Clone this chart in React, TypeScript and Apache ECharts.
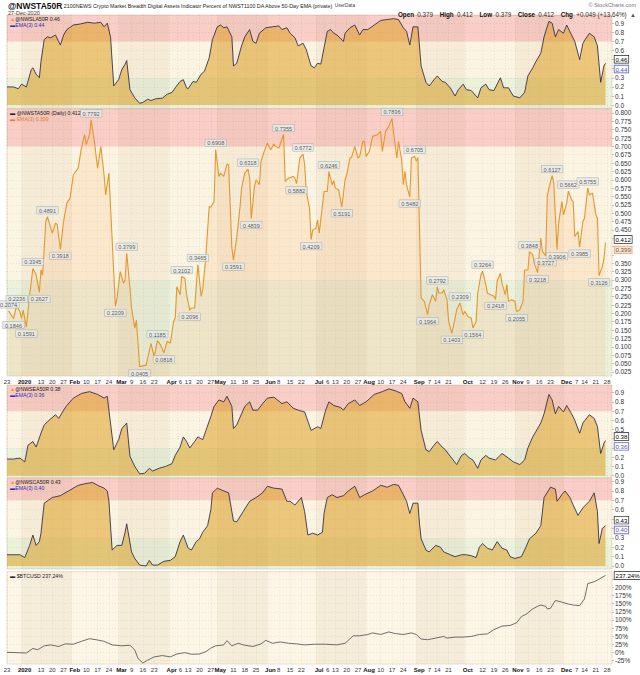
import React, { useEffect, useRef } from "react";
import * as echarts from "echarts";

const FONT = "'Liberation Sans', Arial, sans-serif";

// ---------- x categories: calendar days 2019-12-23 .. 2020-12-31 ----------
const FIRST_DAY = Date.UTC(2019, 11, 23);
const DAY_COUNT = 375;
const categories: string[] = Array.from({ length: DAY_COUNT }, (_, i) =>
  new Date(FIRST_DAY + i * 86400000).toISOString().slice(0, 10)
);

const xTickLabels: [string, string][] = [
  ["2019-12-23", "23"], ["2020-01-01", "2020"], ["2020-01-13", "13"], ["2020-01-20", "20"], ["2020-01-27", "27"],
  ["2020-02-01", "Feb"], ["2020-02-10", "10"], ["2020-02-17", "17"], ["2020-02-24", "24"],
  ["2020-03-01", "Mar"], ["2020-03-09", "9"], ["2020-03-16", "16"], ["2020-03-23", "23"],
  ["2020-04-01", "Apr"], ["2020-04-06", "6"], ["2020-04-13", "13"], ["2020-04-20", "20"], ["2020-04-27", "27"],
  ["2020-05-01", "May"], ["2020-05-11", "11"], ["2020-05-18", "18"], ["2020-05-25", "25"],
  ["2020-06-01", "Jun"], ["2020-06-08", "8"], ["2020-06-15", "15"], ["2020-06-22", "22"],
  ["2020-07-01", "Jul"], ["2020-07-06", "6"], ["2020-07-13", "13"], ["2020-07-20", "20"], ["2020-07-27", "27"],
  ["2020-08-01", "Aug"], ["2020-08-10", "10"], ["2020-08-17", "17"], ["2020-08-24", "24"],
  ["2020-09-01", "Sep"], ["2020-09-07", "7"], ["2020-09-14", "14"], ["2020-09-21", "21"],
  ["2020-10-01", "Oct"], ["2020-10-12", "12"], ["2020-10-19", "19"], ["2020-10-26", "26"],
  ["2020-11-01", "Nov"], ["2020-11-09", "9"], ["2020-11-16", "16"], ["2020-11-23", "23"],
  ["2020-12-01", "Dec"], ["2020-12-07", "7"], ["2020-12-14", "14"], ["2020-12-21", "21"], ["2020-12-28", "28"],
];
const boldTickTexts = ["2020", "Feb", "Mar", "Apr", "May", "Jun", "Jul", "Aug", "Sep", "Oct", "Nov", "Dec"];
// day labels that sit right after a month label
const crowdedTickDates = ["2020-04-06", "2020-07-06", "2020-09-07", "2020-12-07"];

const shadedMonths: [string, string][] = [
  ["2020-01-01", "2020-02-01"], ["2020-03-01", "2020-04-01"], ["2020-05-01", "2020-06-01"],
  ["2020-07-01", "2020-08-01"], ["2020-09-01", "2020-10-01"], ["2020-11-01", "2020-12-01"],
];

// ---------- y tick labels ----------
const ratioTicks = [0, 0.1, 0.2, 0.3, 0.4, 0.5, 0.6, 0.7, 0.8, 0.9];
const mainTicks = [
  0.025, 0.05, 0.075, 0.1, 0.125, 0.15, 0.175, 0.2, 0.225, 0.25, 0.275, 0.3, 0.325, 0.35, 0.375, 0.4,
  0.425, 0.45, 0.475, 0.5, 0.525, 0.55, 0.575, 0.6, 0.625, 0.65, 0.675, 0.7, 0.725, 0.75, 0.775, 0.8,
];
const btcTicks = [-25, 0, 25, 50, 75, 100, 125, 150, 175, 200, 225];

// ---------- data: [days since 2019-12-23, value] ----------
const nwslaData: [number, number][] = [
  [0, 0.2], [4, 0.2], [7, 0.18], [9, 0.23], [12, 0.2], [15, 0.39], [16, 0.41], [18, 0.34], [20, 0.3], [21, 0.48],
  [23, 0.72], [25, 0.75], [27, 0.74], [30, 0.77], [33, 0.66], [35, 0.77], [37, 0.83], [41, 0.88], [45, 0.89], [50, 0.91],
  [54, 0.9], [58, 0.91], [60, 0.86], [62, 0.9], [64, 0.75], [66, 0.21], [69, 0.28], [71, 0.39], [73, 0.45], [74, 0.49],
  [76, 0.17], [79, 0.08], [82, 0.02], [84, 0.03], [87, 0.065], [89, 0.05], [92, 0.07], [96, 0.076], [99, 0.12], [102, 0.14],
  [104, 0.19], [107, 0.26], [109, 0.28], [111, 0.19], [112, 0.18], [115, 0.26], [117, 0.25], [120, 0.34], [122, 0.37], [125, 0.52],
  [127, 0.72], [130, 0.86], [132, 0.88], [134, 0.85], [136, 0.86], [139, 0.75], [140, 0.43], [142, 0.46], [145, 0.65], [147, 0.75],
  [150, 0.83], [152, 0.7], [154, 0.68], [156, 0.79], [160, 0.85], [164, 0.86], [168, 0.87], [170, 0.83], [173, 0.85], [175, 0.79],
  [178, 0.74], [180, 0.65], [183, 0.68], [185, 0.61], [188, 0.43], [190, 0.41], [192, 0.46], [194, 0.45], [197, 0.72], [198, 0.81],
  [200, 0.83], [202, 0.79], [204, 0.77], [208, 0.7], [209, 0.79], [212, 0.85], [215, 0.88], [218, 0.77], [220, 0.83], [223, 0.83],
  [227, 0.88], [231, 0.93], [235, 0.94], [239, 0.95], [242, 0.94], [245, 0.85], [247, 0.81], [249, 0.66], [251, 0.86], [254, 0.86],
  [256, 0.43], [259, 0.25], [261, 0.21], [264, 0.28], [266, 0.32], [269, 0.26], [271, 0.25], [274, 0.19], [277, 0.1], [279, 0.17],
  [282, 0.23], [284, 0.17], [287, 0.16], [291, 0.08], [293, 0.19], [296, 0.23], [298, 0.17], [301, 0.16], [305, 0.3], [307, 0.19],
  [310, 0.19], [313, 0.1], [317, 0.08], [320, 0.14], [322, 0.32], [325, 0.41], [327, 0.48], [330, 0.57], [332, 0.75], [335, 0.92],
  [337, 0.9], [339, 0.75], [341, 0.83], [344, 0.79], [346, 0.88], [349, 0.77], [351, 0.7], [354, 0.5], [356, 0.68], [360, 0.79],
  [363, 0.75], [365, 0.65], [367, 0.25], [369, 0.43], [370, 0.46],
];

const nwstaDaily: [number, number][] = [
  [1, 0.2074], [4, 0.1846], [6, 0.2236], [8, 0.205], [9, 0.185], [10, 0.21], [12, 0.1591], [14, 0.255], [16, 0.3345], [18, 0.316],
  [20, 0.2627], [21, 0.33], [22, 0.315], [24, 0.476], [25, 0.4891], [28, 0.44], [30, 0.47], [31, 0.467], [33, 0.3918], [35, 0.476],
  [37, 0.53], [39, 0.545], [41, 0.615], [44, 0.635], [46, 0.695], [48, 0.735], [49, 0.705], [51, 0.735], [52, 0.7792], [54, 0.715],
  [56, 0.635], [58, 0.7], [60, 0.615], [61, 0.555], [63, 0.62], [67, 0.2209], [68, 0.245], [70, 0.325], [72, 0.29], [73, 0.3],
  [74, 0.3799], [76, 0.276], [77, 0.216], [78, 0.186], [79, 0.156], [80, 0.18], [82, 0.0405], [86, 0.045], [89, 0.11], [91, 0.07],
  [93, 0.1185], [95, 0.105], [97, 0.0818], [99, 0.116], [101, 0.111], [103, 0.176], [104, 0.186], [105, 0.28], [107, 0.256], [108, 0.3102],
  [110, 0.305], [111, 0.256], [113, 0.2096], [114, 0.216], [116, 0.216], [118, 0.3465], [120, 0.251], [121, 0.271], [123, 0.376], [125, 0.52],
  [126, 0.518], [128, 0.535], [129, 0.6908], [131, 0.61], [132, 0.62], [134, 0.61], [136, 0.647], [137, 0.645], [139, 0.396], [140, 0.3591],
  [142, 0.426], [144, 0.516], [145, 0.575], [147, 0.62], [149, 0.6318], [150, 0.605], [151, 0.4839], [153, 0.58], [154, 0.6], [156, 0.585],
  [157, 0.655], [159, 0.685], [161, 0.71], [163, 0.69], [165, 0.707], [166, 0.7], [168, 0.695], [171, 0.7355], [172, 0.595], [174, 0.605],
  [177, 0.61], [178, 0.605], [179, 0.5882], [181, 0.665], [183, 0.6772], [184, 0.645], [185, 0.565], [187, 0.515], [188, 0.4209], [189, 0.45],
  [191, 0.455], [192, 0.48], [193, 0.44], [196, 0.565], [198, 0.565], [199, 0.6246], [201, 0.585], [202, 0.597], [203, 0.575], [205, 0.57],
  [207, 0.5191], [209, 0.6], [210, 0.615], [212, 0.665], [213, 0.667], [215, 0.7], [217, 0.665], [218, 0.67], [220, 0.715], [221, 0.715],
  [222, 0.67], [224, 0.685], [226, 0.73], [229, 0.735], [231, 0.745], [232, 0.685], [234, 0.745], [236, 0.76], [238, 0.7836], [239, 0.74],
  [241, 0.665], [242, 0.715], [244, 0.66], [245, 0.585], [246, 0.625], [247, 0.585], [249, 0.5482], [250, 0.665], [252, 0.6705], [253, 0.655],
  [254, 0.667], [255, 0.456], [256, 0.246], [258, 0.236], [260, 0.1964], [261, 0.226], [263, 0.256], [265, 0.236], [266, 0.2792], [267, 0.261],
  [269, 0.261], [270, 0.271], [272, 0.241], [273, 0.176], [275, 0.1403], [277, 0.186], [278, 0.211], [280, 0.2309], [282, 0.196], [283, 0.206],
  [285, 0.19], [287, 0.186], [288, 0.1564], [290, 0.176], [291, 0.261], [293, 0.316], [294, 0.3264], [296, 0.286], [297, 0.26], [299, 0.256],
  [301, 0.251], [302, 0.2418], [303, 0.296], [305, 0.32], [306, 0.29], [308, 0.256], [309, 0.286], [310, 0.236], [312, 0.241], [314, 0.236],
  [315, 0.2055], [317, 0.211], [319, 0.236], [320, 0.33], [322, 0.33], [323, 0.3848], [325, 0.375], [326, 0.35], [328, 0.3218], [329, 0.376],
  [330, 0.425], [331, 0.385], [333, 0.3727], [334, 0.55], [335, 0.575], [337, 0.6127], [338, 0.59], [340, 0.3906], [341, 0.47], [343, 0.535],
  [344, 0.495], [346, 0.53], [347, 0.5662], [349, 0.54], [350, 0.535], [351, 0.43], [353, 0.445], [354, 0.3985], [356, 0.475], [357, 0.485],
  [359, 0.5755], [360, 0.555], [362, 0.56], [364, 0.495], [365, 0.485], [366, 0.3126], [368, 0.34], [369, 0.363], [370, 0.412],
];
const peakLabelDays = [1, 6, 16, 25, 52, 74, 93, 108, 118, 129, 149, 171, 183, 199, 238, 252, 266, 280, 294, 323, 337, 347, 359];
const troughLabelDays = [4, 12, 20, 33, 67, 82, 97, 113, 140, 151, 179, 188, 207, 249, 260, 275, 288, 302, 315, 328, 333, 340, 354, 366];

const nwseaData: [number, number][] = [
  [0, 0.18], [4, 0.18], [8, 0.19], [11, 0.15], [13, 0.33], [16, 0.37], [18, 0.31], [21, 0.46], [23, 0.55], [26, 0.6],
  [30, 0.66], [32, 0.62], [35, 0.71], [37, 0.76], [41, 0.84], [46, 0.89], [51, 0.91], [56, 0.88], [60, 0.84], [62, 0.86],
  [63, 0.71], [66, 0.28], [69, 0.39], [71, 0.51], [74, 0.57], [76, 0.21], [79, 0.1], [82, 0.02], [85, 0.025], [88, 0.08],
  [90, 0.05], [94, 0.08], [98, 0.1], [102, 0.13], [104, 0.22], [107, 0.31], [109, 0.42], [111, 0.37], [113, 0.3], [116, 0.37],
  [118, 0.42], [121, 0.39], [123, 0.49], [126, 0.64], [128, 0.75], [131, 0.82], [134, 0.8], [136, 0.86], [139, 0.75], [140, 0.51],
  [142, 0.55], [145, 0.67], [147, 0.75], [150, 0.8], [152, 0.71], [155, 0.71], [158, 0.78], [161, 0.84], [165, 0.85], [170, 0.78],
  [173, 0.8], [177, 0.73], [180, 0.71], [184, 0.69], [188, 0.49], [192, 0.53], [194, 0.51], [197, 0.71], [199, 0.8], [202, 0.76],
  [206, 0.74], [208, 0.71], [211, 0.78], [215, 0.82], [218, 0.76], [222, 0.8], [227, 0.88], [232, 0.91], [236, 0.94], [240, 0.92],
  [244, 0.89], [246, 0.8], [249, 0.73], [251, 0.84], [254, 0.8], [256, 0.49], [259, 0.28], [261, 0.26], [264, 0.33], [266, 0.37],
  [269, 0.31], [271, 0.28], [274, 0.21], [278, 0.12], [281, 0.22], [283, 0.24], [286, 0.19], [288, 0.17], [291, 0.08], [293, 0.17],
  [296, 0.22], [298, 0.19], [302, 0.17], [306, 0.24], [310, 0.19], [313, 0.15], [317, 0.12], [320, 0.17], [322, 0.3], [325, 0.42],
  [327, 0.48], [330, 0.57], [332, 0.67], [335, 0.88], [337, 0.82], [339, 0.67], [341, 0.75], [344, 0.69], [346, 0.76], [349, 0.67],
  [351, 0.6], [354, 0.46], [356, 0.57], [360, 0.66], [363, 0.62], [365, 0.53], [367, 0.24], [369, 0.35], [370, 0.38],
];

const nwscaData: [number, number][] = [
  [0, 0.12], [8, 0.12], [11, 0.09], [14, 0.22], [16, 0.33], [18, 0.22], [20, 0.26], [21, 0.35], [23, 0.67], [28, 0.73],
  [33, 0.75], [38, 0.8], [44, 0.86], [49, 0.88], [53, 0.89], [56, 0.86], [60, 0.83], [62, 0.8], [63, 0.69], [65, 0.17],
  [68, 0.22], [71, 0.22], [73, 0.36], [74, 0.45], [77, 0.15], [79, 0.08], [82, 0.01], [86, 0.0], [88, 0.06], [90, 0.01],
  [93, 0.01], [97, 0.05], [101, 0.06], [104, 0.1], [107, 0.26], [109, 0.33], [112, 0.19], [114, 0.17], [117, 0.26], [119, 0.29],
  [121, 0.36], [124, 0.43], [126, 0.6], [127, 0.78], [130, 0.83], [134, 0.8], [137, 0.78], [140, 0.48], [142, 0.47], [146, 0.58],
  [150, 0.69], [154, 0.73], [158, 0.78], [161, 0.85], [165, 0.83], [170, 0.82], [173, 0.69], [175, 0.69], [178, 0.65], [182, 0.73],
  [184, 0.58], [186, 0.33], [189, 0.35], [192, 0.33], [195, 0.36], [196, 0.56], [198, 0.73], [201, 0.76], [204, 0.73], [208, 0.75],
  [211, 0.8], [215, 0.85], [218, 0.73], [221, 0.76], [226, 0.8], [231, 0.86], [235, 0.84], [239, 0.87], [242, 0.86], [245, 0.76],
  [247, 0.69], [249, 0.56], [251, 0.67], [254, 0.67], [255, 0.45], [256, 0.29], [259, 0.17], [261, 0.15], [265, 0.22], [268, 0.2],
  [270, 0.15], [274, 0.12], [277, 0.1], [281, 0.12], [284, 0.12], [287, 0.11], [290, 0.09], [292, 0.2], [294, 0.24], [297, 0.19],
  [300, 0.17], [303, 0.26], [306, 0.19], [309, 0.17], [311, 0.1], [314, 0.08], [318, 0.1], [320, 0.17], [323, 0.29], [327, 0.35],
  [330, 0.43], [332, 0.73], [336, 0.84], [339, 0.82], [340, 0.69], [343, 0.76], [345, 0.8], [348, 0.73], [350, 0.65], [353, 0.54],
  [356, 0.62], [360, 0.69], [363, 0.78], [365, 0.58], [366, 0.24], [368, 0.4], [370, 0.43],
];

const btcData: [number, number][] = [
  [0, 0], [12, -2], [16, 12], [19, 8], [23, 20], [27, 23], [32, 18], [36, 26], [41, 25], [46, 34],
  [51, 42], [55, 39], [60, 34], [65, 23], [71, 20], [76, 22], [79, 7], [81, -19], [84, -33], [87, -24],
  [91, -14], [96, -10], [101, -14], [105, -5], [110, -1], [114, -6], [119, -5], [123, 2], [126, 13], [129, 20],
  [134, 23], [136, 36], [139, 20], [143, 28], [146, 23], [152, 18], [157, 26], [160, 37], [164, 28], [169, 32],
  [174, 28], [179, 26], [184, 23], [190, 25], [197, 25], [204, 23], [209, 28], [214, 51], [218, 51], [223, 55],
  [226, 60], [231, 55], [236, 63], [240, 58], [245, 55], [250, 60], [253, 55], [256, 41], [260, 39], [265, 44],
  [270, 49], [272, 44], [277, 47], [282, 47], [287, 49], [292, 55], [297, 57], [301, 70], [306, 81], [311, 83],
  [315, 91], [318, 110], [321, 118], [325, 134], [328, 142], [330, 146], [333, 142], [334, 134], [336, 136], [339, 160],
  [343, 155], [347, 149], [350, 146], [354, 144], [357, 165], [359, 212], [363, 218], [365, 223], [370, 237.24],
];

// last values shown in legends / right-axis boxes
const lastValues = {
  nwsla: 0.46, nwslaEma: 0.44,
  nwsta: 0.412, nwstaEma: 0.399,
  nwsea: 0.38, nwseaEma: 0.36,
  nwsca: 0.43, nwscaEma: 0.4,
  btc: 237.24,
};

// ---------- styling ----------
const RED = "rgba(236,112,88,0.34)";
const CREAM = "rgba(246,214,150,0.28)";
const GREEN = "rgba(196,214,150,0.34)";
const MONTH = "rgba(130,100,50,0.06)";
const FILL = "rgba(221,156,28,0.74)";
const GRIDLINE = "rgba(110,100,80,0.3)";

const tickMap = new Map(xTickLabels);
const toData = (arr: [number, number][]) => arr.map(([d, v]) => [categories[d], v]);
const lastDay = categories[370];

function buildOption() {
  const panels = [
    { top: 15, height: 93.3, min: -0.035, max: 0.99, ticks: ratioTicks, last: lastValues.nwsla, hide: [-0.085, 0.085], fmt: (v: number) => v.toFixed(1), kind: "ratio" },
    { top: 108.8, height: 267.2, min: 0.0125, max: 0.8125, ticks: mainTicks, last: lastValues.nwsta, hide: [-0.04, 0.02], fmt: (v: number) => v.toFixed(3), kind: "ratio" },
    { top: 385, height: 92.5, min: -0.02, max: 0.982, ticks: ratioTicks, last: lastValues.nwsea, hide: [-0.085, 0.085], fmt: (v: number) => v.toFixed(1), kind: "ratio" },
    { top: 478.3, height: 90.7, min: -0.032, max: 0.935, ticks: ratioTicks, last: lastValues.nwsca, hide: [-0.085, 0.085], fmt: (v: number) => v.toFixed(1), kind: "ratio" },
    { top: 571.7, height: 92.3, min: -36, max: 248.8, ticks: btcTicks, last: lastValues.btc, hide: [-13, 13], fmt: (v: number) => v + "%", kind: "btc" },
  ];

  const isTick = (_: number, v: string) => tickMap.has(v);

  const grid = panels.map((p) => ({
    left: 7, width: 605, top: p.top, height: p.height,
    show: true, borderColor: "#C9BFAE", borderWidth: 0.5, backgroundColor: "transparent",
  }));

  const XF = 6;
  const xAxis = panels.map((p, k) => ({
    type: "category", gridIndex: k, data: categories, boundaryGap: false,
    axisLine: { show: false }, axisTick: { show: false },
    axisLabel: {
      show: k === 1 || k === 4,
      interval: isTick,
      formatter: (v: string) => {
        const t = tickMap.get(v) || "";
        if (boldTickTexts.includes(t)) return `{b|${t}}`;
        if (crowdedTickDates.includes(v)) return `{s|${t}}`;
        return t;
      },
      fontSize: XF, color: "#333", margin: 2.5, fontFamily: FONT,
      rich: {
        b: { fontWeight: "bold", fontSize: XF, color: "#111", fontFamily: FONT, padding: [0, 0, 0, 6] },
        s: { fontSize: XF, color: "#333", fontFamily: FONT, padding: [0, 0, 0, 7] },
      },
    },
    splitLine: { show: true, interval: isTick, lineStyle: { color: GRIDLINE, width: 0.5, type: [1, 2] } },
  }));

  // tick labels hidden behind the current-value boxes, as in the reference
  const yAxis = panels.map((p, k) => ({
    type: "value", gridIndex: k, position: "right", min: p.min, max: p.max,
    axisLine: { show: false },
    axisTick: { show: true, length: 2, customValues: p.ticks, lineStyle: { color: "#888", width: 0.5 } },
    axisLabel: {
      customValues: p.ticks.filter((v) => v - p.last <= p.hide[0] || v - p.last > p.hide[1]),
      formatter: p.fmt, fontSize: 6.5, color: "#333", margin: 3, fontFamily: FONT,
    },
    splitLine: { show: true, lineStyle: { color: GRIDLINE, width: 0.5, type: [1, 2] } },
  }));

  const bandAreas = (p: any) => {
    const bands =
      p.kind === "ratio"
        ? [
            [{ yAxis: 0.7, itemStyle: { color: RED } }, { yAxis: p.max }],
            [{ yAxis: 0.3, itemStyle: { color: CREAM } }, { yAxis: 0.7 }],
            [{ yAxis: p.min, itemStyle: { color: GREEN } }, { yAxis: 0.3 }],
          ]
        : [[{ yAxis: p.min, itemStyle: { color: "rgba(246,214,150,0.25)" } }, { yAxis: p.max }]];
    const months = shadedMonths.map(([a, b]) => [{ xAxis: a, itemStyle: { color: MONTH } }, { xAxis: b }]);
    return [...bands, ...months];
  };

  const panelData = [nwslaData, nwstaDaily, nwseaData, nwscaData, btcData];

  const series: any[] = [];
  panels.forEach((p, k) => {
    series.push({
      type: "line", xAxisIndex: k, yAxisIndex: k, z: 1, silent: true,
      data: toData(panelData[k]), showSymbol: false, lineStyle: { opacity: 0 },
      markArea: { silent: true, data: bandAreas(p) },
    });
  });

  const boxLabel = (text: string, border: string, bg: string, color: string) => ({
    show: true, formatter: () => text, distance: 9, fontSize: 6.1, fontFamily: FONT, color,
    backgroundColor: bg, borderColor: border, borderWidth: 0.7, padding: [1, 1, 0, 1],
  });

  const ratioPanel = (k: number, data: [number, number][], last: number, ema: number, upOff: number, downOff: number) => {
    series.push({
      type: "scatter", xAxisIndex: k, yAxisIndex: k, z: 4, symbolSize: 0, silent: true,
      data: [[lastDay, ema]],
      label: { ...boxLabel(ema.toFixed(2), "#3333aa", "#fff", "#22228a"), position: "right", offset: [0, downOff] },
    });
    series.push({
      type: "line", xAxisIndex: k, yAxisIndex: k, z: 3, data: toData(data), showSymbol: false,
      lineStyle: { color: "#2c2848", width: 0.85 },
      areaStyle: { color: FILL },
      endLabel: { ...boxLabel(last.toFixed(2), "#222", "#fff", "#000"), offset: [0, upOff] },
    });
  };
  ratioPanel(0, nwslaData, lastValues.nwsla, lastValues.nwslaEma, -4, 4);
  ratioPanel(2, nwseaData, lastValues.nwsea, lastValues.nwseaEma, -4, 4);
  ratioPanel(3, nwscaData, lastValues.nwsca, lastValues.nwscaEma, -5.5, 1.5);

  // main panel
  series.push({
    type: "scatter", xAxisIndex: 1, yAxisIndex: 1, z: 4, symbolSize: 0, silent: true,
    data: [[lastDay, lastValues.nwstaEma]],
    label: { ...boxLabel(lastValues.nwstaEma.toFixed(3), "#E0904A", "#FBD9C0", "#333"), position: "right", offset: [0, 3] },
  });
  series.push({
    type: "line", xAxisIndex: 1, yAxisIndex: 1, z: 3, data: toData(nwstaDaily), showSymbol: false,
    lineStyle: { color: "#E2982C", width: 1.1 },
    areaStyle: { color: "rgba(250,178,118,0.28)" },
    endLabel: { ...boxLabel(lastValues.nwsta.toFixed(3), "#222", "#fff", "#000"), offset: [0, -3] },
  });
  const valueAt = (d: number) => (nwstaDaily.find(([x]) => x === d) || [d, 0])[1];
  const labelItems = [
    ...peakLabelDays.map((d) => ({ value: [categories[d], valueAt(d)], label: { position: "top" } })),
    ...troughLabelDays.map((d) => ({ value: [categories[d], valueAt(d)], label: { position: "bottom" } })),
  ];
  series.push({
    type: "scatter", xAxisIndex: 1, yAxisIndex: 1, z: 5, symbolSize: 0, silent: true,
    data: labelItems,
    label: {
      show: true, formatter: (pp: any) => Number(pp.value[1]).toFixed(4), distance: 3,
      fontSize: 5.6, fontFamily: FONT, color: "#333",
      backgroundColor: "#E6EAE9", borderColor: "#9FA9A8", borderWidth: 0.5, padding: [1, 2, 0, 2],
    },
  });

  // BTC panel
  series.push({
    type: "line", xAxisIndex: 4, yAxisIndex: 4, z: 3, data: toData(btcData), showSymbol: false,
    lineStyle: { color: "#5e5e5e", width: 0.9 },
    endLabel: boxLabel(lastValues.btc.toFixed(2) + "%", "#222", "#fff", "#000"),
  });

  const LF = 5.2;
  const t = (x: number, y: number, text: string, rich: any, extra: any = {}) => ({
    type: "text", left: x, top: y, z: 100, silent: true,
    style: { text, rich, fontFamily: FONT, fontSize: LF, fill: "#333", ...extra },
  });
  const legRich = {
    tri: { fill: "#E0A030", fontSize: LF, fontFamily: FONT },
    blk: { fill: "#222", fontSize: LF, fontFamily: FONT },
    blu: { fill: "#3030B8", fontSize: LF, fontFamily: FONT },
    org: { fill: "#F07A2A", fontSize: LF, fontFamily: FONT },
  };

  const graphic = [
    t(8, 1, "{a|@NWSTA50R} {b|2100NEWS Crypto Market Breadth Digital Assets Indicator Percent of NWST1100 DA Above 50-Day EMA (private)} {c|UserData}", {
      a: { fontWeight: "bold", fontSize: 8.5, fill: "#111", fontFamily: FONT },
      b: { fontSize: 5.3, fill: "#222", fontFamily: FONT },
      c: { fontSize: 4.8, fill: "#444", fontFamily: FONT },
    }),
    { type: "text", right: 4, top: 2, z: 100, silent: true, style: { text: "© StockCharts.com", fontSize: 5.5, fill: "#777", fontFamily: FONT } },
    t(8, 9.5, "27-Dec-2020", {}, { fontSize: 5.5, fill: "#333" }),
    {
      type: "text", right: 4, top: 8.5, z: 100, silent: true,
      style: {
        text: "{k|Open} {v|0.379}  {k|High} {v|0.412}  {k|Low} {v|0.379}  {k|Close} {v|0.412}  {k|Chg} {v|+0.049 (+13.64%)} {u|▲}",
        fontFamily: FONT,
        rich: {
          k: { fontWeight: "bold", fontSize: 6.3, fill: "#111", fontFamily: FONT },
          v: { fontSize: 6.3, fill: "#333", fontFamily: FONT },
          u: { fontSize: 6, fill: "#555", fontFamily: FONT },
        },
      },
    },
    t(10, 16.5, "{tri|▲}{blk|@NWSLA50R 0.46}", legRich),
    t(10, 22.5, "{blu|▬}{blu|EMA(3) 0.44}", legRich),
    t(10, 110.5, "{blk|▬ @NWSTA50R (Daily) 0.412}", legRich),
    t(10, 116.5, "{org|▬ EMA(3) 0.399}", legRich),
    t(10, 386.5, "{tri|▲}{blk|@NWSEA50R 0.38}", legRich),
    t(10, 392.5, "{blu|▬}{blu|EMA(3) 0.36}", legRich),
    t(10, 479.5, "{tri|▲}{blk|@NWSCA50R 0.43}", legRich),
    t(10, 485.5, "{blu|▬}{blu|EMA(3) 0.40}", legRich),
    t(10, 573.5, "{blk|▬ $BTCUSD 237.24%}", legRich),
  ];

  return { animation: false, backgroundColor: "#fff", grid, xAxis, yAxis, series, graphic };
}

export default function App() {
  const ref = useRef<HTMLDivElement>(null);
  useEffect(() => {
    document.body.style.margin = "0";
    const chart = echarts.init(ref.current as HTMLDivElement, undefined, { renderer: "svg" });
    chart.setOption(buildOption() as any);
    return () => chart.dispose();
  }, []);
  return <div ref={ref} style={{ width: 640, height: 675 }} />;
}
